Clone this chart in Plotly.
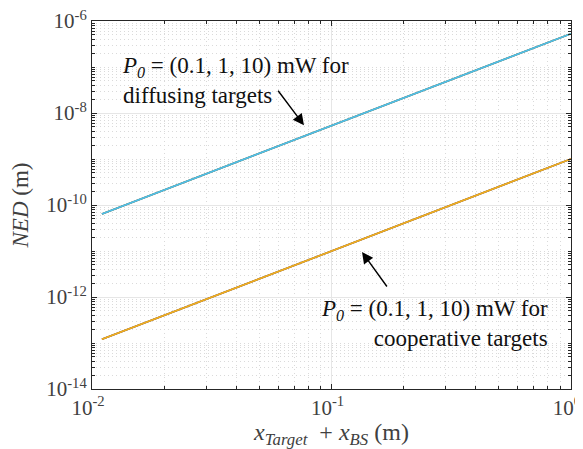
import plotly.graph_objects as go

# Data
x_vals = [0.011, 0.1, 1.0]
ned_diffusing = [6.4e-11, 5.3e-9, 5.3e-7]
ned_cooperative = [1.2e-13, 1.0e-11, 1.0e-9]
power_labels = ["0.1 mW", "1 mW", "10 mW"]
coop_colors = ["#0072BD", "#D95319", "#EDB120"]
diff_colors = ["#7E2F8E", "#77AC30", "#4DBEEE"]

x_ticks = [1e-2, 1e-1, 1e0]
x_ticktext = ["10<sup>-2</sup>", "10<sup>-1</sup>", "10<sup>0</sup>"]
y_ticks = [1e-14, 1e-12, 1e-10, 1e-8, 1e-6]
y_ticktext = ["10<sup>-14</sup>", "10<sup>-12</sup>", "10<sup>-10</sup>",
              "10<sup>-8</sup>", "10<sup>-6</sup>"]

FONT = "Liberation Serif"
AX = "#262626"
TXT = "#404040"

fig = go.Figure()
for lbl, c in zip(power_labels, coop_colors):
    fig.add_trace(go.Scatter(x=x_vals, y=ned_cooperative, mode="lines",
                             line=dict(color=c, width=1.6), name="coop " + lbl))
for lbl, c in zip(power_labels, diff_colors):
    fig.add_trace(go.Scatter(x=x_vals, y=ned_diffusing, mode="lines",
                             line=dict(color=c, width=1.6), name="diff " + lbl))

x_minor = [m * 10.0 ** e for e in range(-2, 0) for m in range(2, 10)]
y_minor = [m * 10.0 ** e for e in range(-14, -6) for m in range(2, 10)]
y_minor += [10.0 ** e for e in (-13, -11, -9, -7)]

axis_common = dict(
    type="log", showline=True, linecolor=AX, linewidth=1, mirror="allticks",
    ticks="inside", ticklen=5, tickcolor=AX, tickwidth=1, automargin=False,
    ticklabeloverflow="allow",
    showgrid=True, gridcolor="#e6e6e6", gridwidth=1, zeroline=False,
)
minor_common = dict(tickmode="array", ticks="inside", ticklen=3, tickcolor=AX,
                    showgrid=True, gridcolor="#dadada", griddash="1px,3px",
                    gridwidth=1)

fig.update_xaxes(**axis_common, range=[-2, 0.00001], tickmode="array",
                 tickvals=x_ticks, ticktext=x_ticktext, ticklabelshift=-4,
                 tickfont=dict(family=FONT, size=21, color=TXT),
                 minor=dict(tickvals=x_minor, **minor_common),
                 title=dict(text="<i>x</i><sub><i>Target</i></sub>  + <i>x</i><sub><i>BS</i></sub> (m)",
                            font=dict(family=FONT, size=24, color=TXT), standoff=10))
fig.update_yaxes(**axis_common, range=[-14, -6], tickmode="array",
                 tickvals=y_ticks, ticktext=y_ticktext,
                 tickfont=dict(family=FONT, size=21, color=TXT),
                 minor=dict(tickvals=y_minor, **minor_common),
                 title=dict(text="<i>NED</i> (m)",
                            font=dict(family=FONT, size=23, color=TXT), standoff=18))

# the page body has an 8 px margin, so the figure is laid out shifted by 8 px
OFF = 8
L, T, R, B = 92 - OFF, 21 - OFF, 12 + OFF, 68 - OFF
PW, PH = 479, 360

def px(xp):
    return (xp - 92) / PW

def py(yp):
    return (381 - yp) / PH

fig.add_annotation(xref="paper", yref="paper", x=px(120), y=py(50),
                   xanchor="left", yanchor="top", align="left", showarrow=False,
                   text="<i>P</i><sub><i>0</i></sub> = (0.1, 1, 10) mW for<br>diffusing targets",
                   font=dict(family=FONT, size=23, color="#111111"))
fig.add_annotation(xref="paper", yref="paper", x=px(550), y=py(288),
                   xanchor="right", yanchor="top", align="right", showarrow=False,
                   text="<i>P</i><sub><i>0</i></sub> = (0.1, 1, 10) mW for<br>cooperative targets",
                   font=dict(family=FONT, size=23, color="#111111"))

# arrows
fig.add_annotation(xref="paper", yref="paper", axref="pixel", ayref="pixel",
                   x=px(304), y=py(123), ax=-27, ay=-36,
                   showarrow=True, arrowhead=2, arrowsize=1.6, arrowwidth=1.4,
                   arrowcolor="#000000", text="")
fig.add_annotation(xref="paper", yref="paper", axref="pixel", ayref="pixel",
                   x=px(362), y=py(247), ax=26, ay=36,
                   showarrow=True, arrowhead=2, arrowsize=1.6, arrowwidth=1.4,
                   arrowcolor="#000000", text="")

fig.update_layout(width=583, height=449 - OFF, showlegend=False,
                  margin=dict(l=L, r=R, t=T, b=B),
                  plot_bgcolor="white", paper_bgcolor="white",
                  font=dict(family=FONT, color=TXT))

fig.write_html("out.html")
